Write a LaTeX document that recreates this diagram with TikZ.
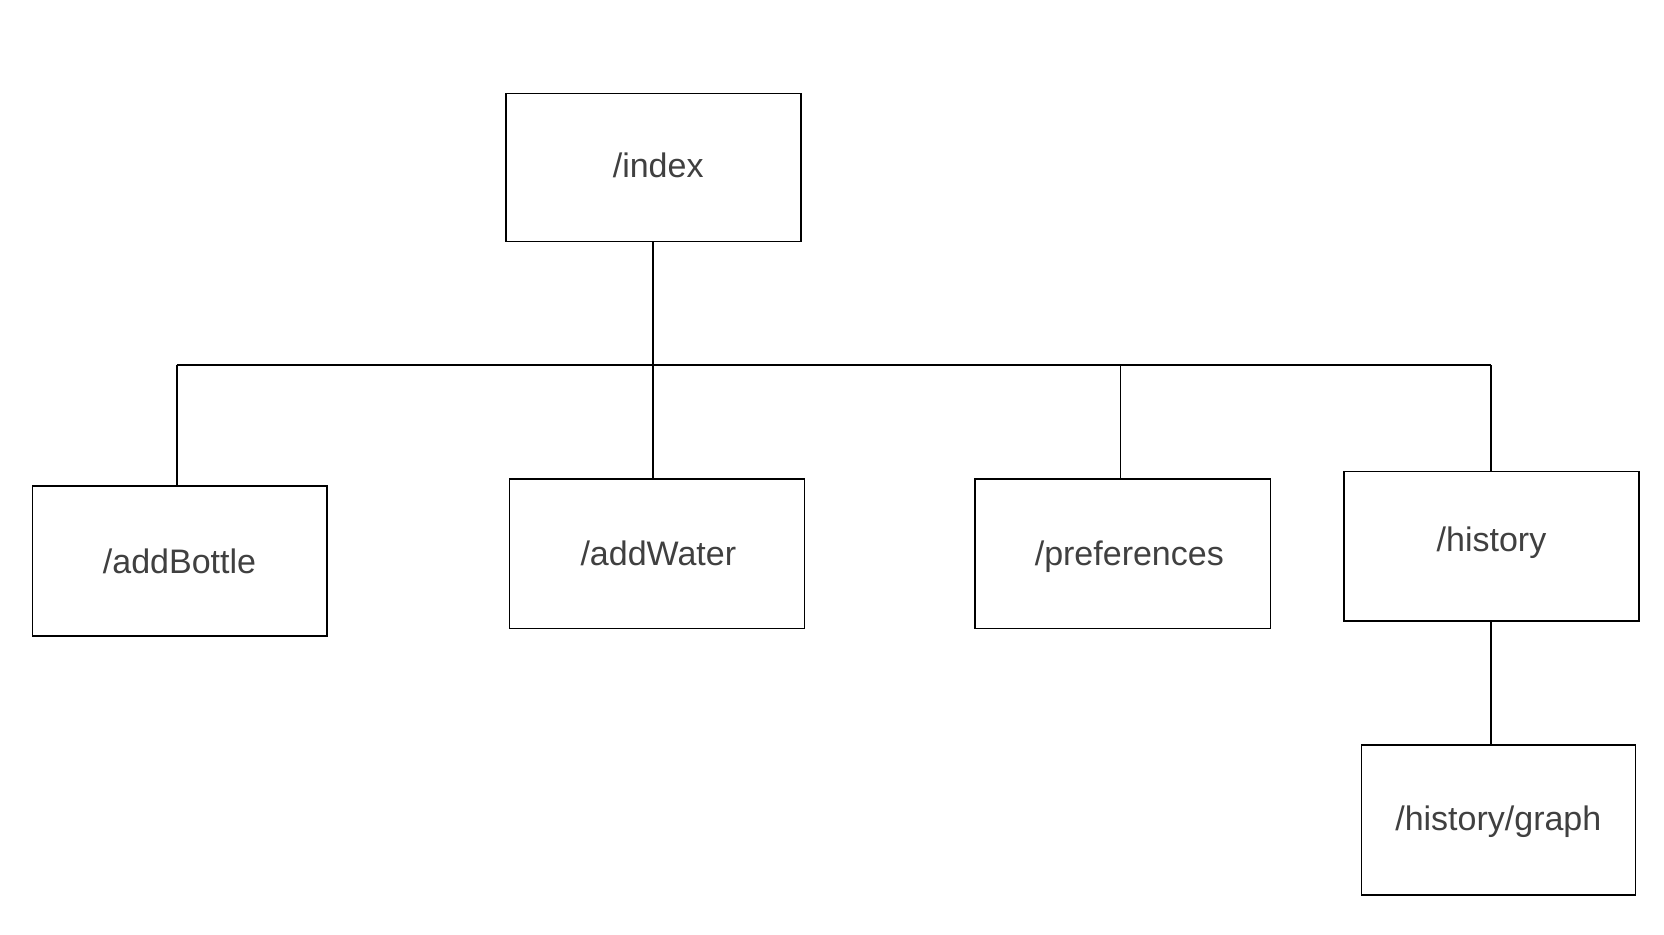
\documentclass[tikz,border=0pt]{standalone}
\usepackage{fontspec}
\setmainfont{Liberation Sans}
\definecolor{txtgray}{RGB}{64,64,64}
\begin{document}
\begin{tikzpicture}[x=1pt,y=-1pt,
  pagebox/.style={draw=black,line width=1.6pt,fill=white,inner sep=0pt,
    minimum width=295pt,minimum height=149pt,text=txtgray,
    font=\fontsize{34}{40}\selectfont},
  link/.style={draw=black,line width=1.6pt}]
\useasboundingbox (0,0) rectangle (1664,934);
\fill[white] (0,0) rectangle (1664,934);
\node[pagebox,minimum height=148pt,text height=20pt,text depth=0pt] (index) at (653.2,167.3) {\hspace{10pt}/index};
\node[pagebox,minimum width=294.4pt,minimum height=150pt] (addBottle) at (179.5,561) {/addBottle};
\node[pagebox,minimum height=149.6pt] (addWater) at (656.8,553.5) {\hspace{3pt}/addWater};
\node[pagebox,minimum width=295.7pt,minimum height=149.6pt,text height=24pt,text depth=0pt] (preferences) at (1122.8,553.5) {\hspace{13pt}/preferences};
\node[pagebox,minimum height=149.4pt,text height=18.4pt,text depth=7pt] (history) at (1491.5,546) {/history};
\node[pagebox,minimum width=274pt,minimum height=150pt,text height=20pt,text depth=0pt] (graph) at (1498.3,820) {/history/graph\hspace{4pt}};
\coordinate (jB) at (176.7,365);
\coordinate (jP) at (1120.3,365);
\coordinate (jH) at (1490.7,365);
\draw[link] (index.south) -- (index.south |- jB);
\draw[link] (jB) -- (jH);
\draw[link] (jB) -- (jB |- addBottle.north);
\draw[link] (index.south |- jB) -- (index.south |- addWater.north);
\draw[link] (jP) -- (jP |- preferences.north);
\draw[link] (jH) -- (jH |- history.north);
\draw[link] (history.south -| jH) -- (graph.north -| jH);
\end{tikzpicture}
\end{document}
